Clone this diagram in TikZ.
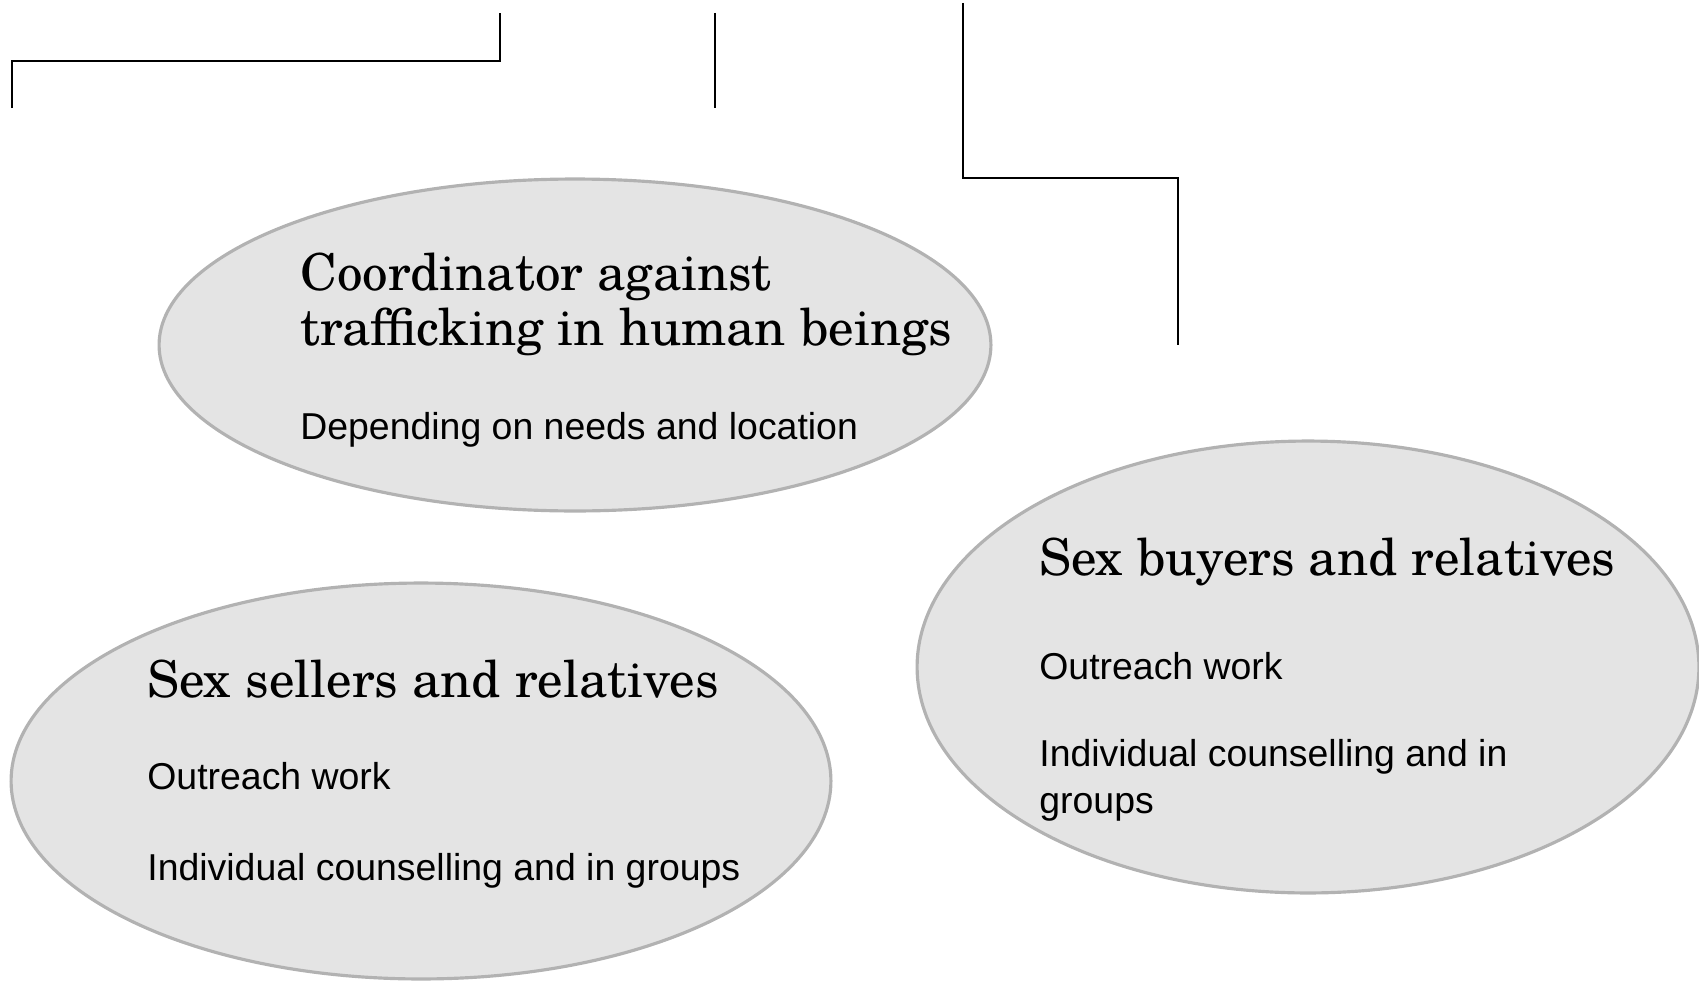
\documentclass[tikz,border=0pt]{standalone}
\usepackage{fontspec}
\setsansfont{Liberation Sans}
\newfontfamily\headfont{TeX Gyre Schola}
\usetikzlibrary{shapes.geometric}
\definecolor{ellfill}{HTML}{E4E4E4}
\definecolor{elldraw}{HTML}{B2B2B2}
\tikzset{
  bubble/.style={ellipse, draw=elldraw, fill=ellfill, line width=1.8pt, inner sep=0pt},
  headtxt/.style={anchor=base west, inner sep=0pt, font=\headfont\fontsize{29}{34}\selectfont},
  bodytxt/.style={anchor=base west, inner sep=0pt, font=\sffamily\fontsize{21.3}{26}\selectfont},
  stub/.style={line width=1.45pt, black}
}
\begin{document}
\begin{tikzpicture}[x=0.02cm, y=-0.02cm]
\useasboundingbox (0,0) rectangle (1699,980);
% bracket fragments
\coordinate (a1) at (12,108);
\coordinate (a2) at (12,61);
\coordinate (a3) at (500,61);
\coordinate (a4) at (500,13);
\draw[stub] (a1) -- (a2) -- (a3) -- (a4);
\coordinate (b1) at (715,13);
\coordinate (b2) at (715,108);
\draw[stub] (b1) -- (b2);
\coordinate (c1) at (963,3);
\coordinate (c2) at (963,178);
\coordinate (c3) at (1178,178);
\coordinate (c4) at (1178,345);
\draw[stub] (c1) -- (c2) -- (c3) -- (c4);
% ellipses
\node[bubble, minimum width=16.64cm, minimum height=6.64cm] (coord) at (575,345) {};
\node[bubble, minimum width=16.4cm, minimum height=7.92cm] (sellers) at (421,781) {};
\node[bubble, minimum width=15.64cm, minimum height=9.04cm] (buyers) at (1308,667) {};
% texts
\node[headtxt] (ca) at (300,290) {Coordinator against};
\node[headtxt] (cb) at (300,345) {trafficking in human beings};
\node[bodytxt] (cc) at (300,439) {Depending on needs and location};
\node[headtxt] (sa) at (147,697) {Sex sellers and relatives};
\node[bodytxt] (sb) at (147,789) {Outreach work};
\node[bodytxt] (sc) at (147,880) {Individual counselling and in groups};
\node[headtxt] (ba) at (1039,575) {Sex buyers and relatives};
\node[bodytxt] (bb) at (1039,679) {Outreach work};
\node[bodytxt] (bc) at (1039,766) {Individual counselling and in};
\node[bodytxt] (bd) at (1039,813) {groups};
\end{tikzpicture}
\end{document}
